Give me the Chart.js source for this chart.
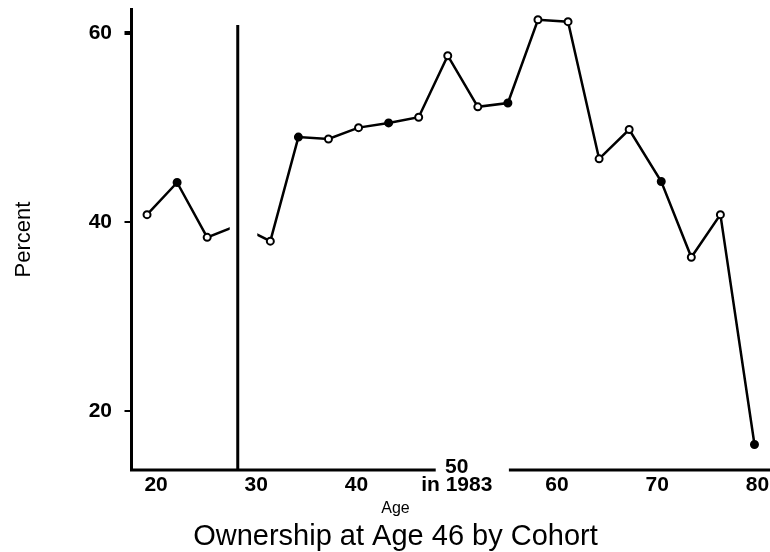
<!DOCTYPE html>
<html><head><meta charset="utf-8">
<script src="https://cdn.jsdelivr.net/npm/chart.js@4.4.1/dist/chart.umd.min.js"></script>
<style>html,body{margin:0;padding:0;background:#fff;} canvas{display:block;}</style>
</head><body>
<canvas id="c" width="770" height="552"></canvas>
<script>
// ---- data ----
const cohortAge    = [19.1, 22.1, 25.1, 28.2, 31.4, 34.2, 37.2, 40.2, 43.2, 46.2, 49.1, 52.1, 55.1, 58.1, 61.1, 64.2, 67.2, 70.4, 73.4, 76.3, 79.7];
const ownershipPct = [40.8, 44.2, 38.4, 39.7, 38.0, 49.0, 48.8, 50.0, 50.5, 51.1, 57.6, 52.2, 52.6, 61.4, 61.2, 46.7, 49.8, 44.3, 36.3, 40.8, 16.5];
// true = filled marker, false = open marker, null = hidden behind divider
const markerFilled = [false, true, false, null, false, true, false, false, true, false, false, false, true, false, false, false, false, true, false, false, true];

const xTickValues = [20, 30, 40, 50, 60, 70, 80];
const xTickLabels = ['20', '30', '40', ['50', 'in 1983'], '60', '70', '80'];
const yTickValues = [20, 40, 60];
const yTickLabels = ['20', '40', '60'];

const chartTitle = 'Ownership at Age 46 by Cohort';
const xAxisTitle = 'Age';
const yAxisTitle = 'Percent';

// axis ranges, divider and gaps (data units)
const X_MIN = 17.55, X_MAX = 80.65;
const Y_MIN = 13.81, Y_MAX = 62.54;
const dividerAge = 28.15, dividerTop = 60.85;
const lineGapAges = [27.35, 30.1], lineGapValues = [38.3, 40.6];
const axisGapAges = [47.9, 55.2];

const axisPlugin = {
  id: 'axisWithGap',
  beforeDatasetsDraw(chart) {
    const {ctx, chartArea, scales: {x}} = chart;
    const yb = chartArea.bottom;
    ctx.save();
    ctx.strokeStyle = '#000';
    ctx.lineWidth = 3;
    ctx.beginPath();
    ctx.moveTo(chartArea.left - 1.5, yb);
    ctx.lineTo(x.getPixelForValue(axisGapAges[0]), yb);
    ctx.moveTo(x.getPixelForValue(axisGapAges[1]), yb);
    ctx.lineTo(chart.width, yb);
    ctx.stroke();
    ctx.restore();
  }
};

const dividerPlugin = {
  id: 'divider',
  afterDatasetsDraw(chart) {
    const {ctx, chartArea, scales: {x, y}} = chart;
    ctx.save();
    ctx.fillStyle = '#fff';
    const gx1 = x.getPixelForValue(lineGapAges[0]), gx2 = x.getPixelForValue(lineGapAges[1]);
    const gy1 = y.getPixelForValue(lineGapValues[1]), gy2 = y.getPixelForValue(lineGapValues[0]);
    ctx.fillRect(gx1, gy1, gx2 - gx1, gy2 - gy1);
    const dx = x.getPixelForValue(dividerAge);
    ctx.strokeStyle = '#000';
    ctx.lineWidth = 3;
    ctx.beginPath();
    ctx.moveTo(dx, y.getPixelForValue(dividerTop));
    ctx.lineTo(dx, chartArea.bottom);
    ctx.stroke();
    ctx.restore();
  }
};

const tickFont = {family: 'Liberation Sans', size: 21, weight: 'bold', lineHeight: 0.85};

new Chart(document.getElementById('c'), {
  type: 'line',
  data: {
    datasets: [{
      data: cohortAge.map((a, i) => ({x: a, y: ownershipPct[i]})),
      borderColor: '#000',
      borderWidth: 2.5,
      tension: 0,
      fill: false,
      pointRadius: markerFilled.map(f => f === null ? 0 : 3.5),
      pointBackgroundColor: markerFilled.map(f => f ? '#000' : '#fff'),
      pointBorderColor: '#000',
      pointBorderWidth: 2
    }]
  },
  options: {
    responsive: false,
    animation: false,
    devicePixelRatio: 1,
    layout: {padding: {left: 13, right: -8, top: 9, bottom: 0}},
    plugins: {
      legend: {display: false},
      tooltip: {enabled: false},
      title: {
        display: true, text: chartTitle, position: 'bottom', color: '#000',
        font: {family: 'Liberation Sans', size: 29, weight: 'normal', lineHeight: 1},
        padding: {top: 3, bottom: 1}
      },
      subtitle: {
        display: true, text: xAxisTitle, position: 'bottom', color: '#000',
        font: {family: 'Liberation Sans', size: 16, weight: 'normal', lineHeight: 1},
        padding: {top: 2, bottom: 2}
      }
    },
    scales: {
      x: {
        type: 'linear', min: X_MIN, max: X_MAX,
        afterBuildTicks: s => { s.ticks = xTickValues.map(v => ({value: v})); },
        afterFit: s => { s.height = 29; s.paddingLeft = 0; s.paddingRight = 0; s.paddingTop = 0; s.paddingBottom = 0; },
        grid: {display: false},
        border: {display: false},
        ticks: {
          autoSkip: false, maxRotation: 0, minRotation: 0, mirror: true,
          padding: -6, color: '#000', font: tickFont,
          callback: v => {
            const l = xTickLabels[xTickValues.indexOf(v)];
            return Array.isArray(l) ? l : ['', l];
          }
        }
      },
      y: {
        type: 'linear', min: Y_MIN, max: Y_MAX,
        afterBuildTicks: s => { s.ticks = yTickValues.map(v => ({value: v})); },
        afterFit: s => { s.width = 118.5; s.paddingLeft = 0; s.paddingRight = 0; s.paddingTop = 0; s.paddingBottom = 0; },
        grid: {
          display: true, drawOnChartArea: false, drawTicks: true, tickLength: 7,
          color: '#000', lineWidth: ctx => (ctx.tick && ctx.tick.value === 60) ? 4 : 2
        },
        border: {display: true, color: '#000', width: 3},
        ticks: {
          padding: 12.5, color: '#000', font: {family: 'Liberation Sans', size: 21, weight: 'bold'},
          callback: v => yTickLabels[yTickValues.indexOf(v)]
        },
        title: {
          display: true, text: yAxisTitle, color: '#000',
          font: {family: 'Liberation Sans', size: 22, weight: 'normal', lineHeight: 1},
          padding: {top: 0, bottom: 0}
        }
      }
    }
  },
  plugins: [axisPlugin, dividerPlugin]
});
</script>
</body></html>
